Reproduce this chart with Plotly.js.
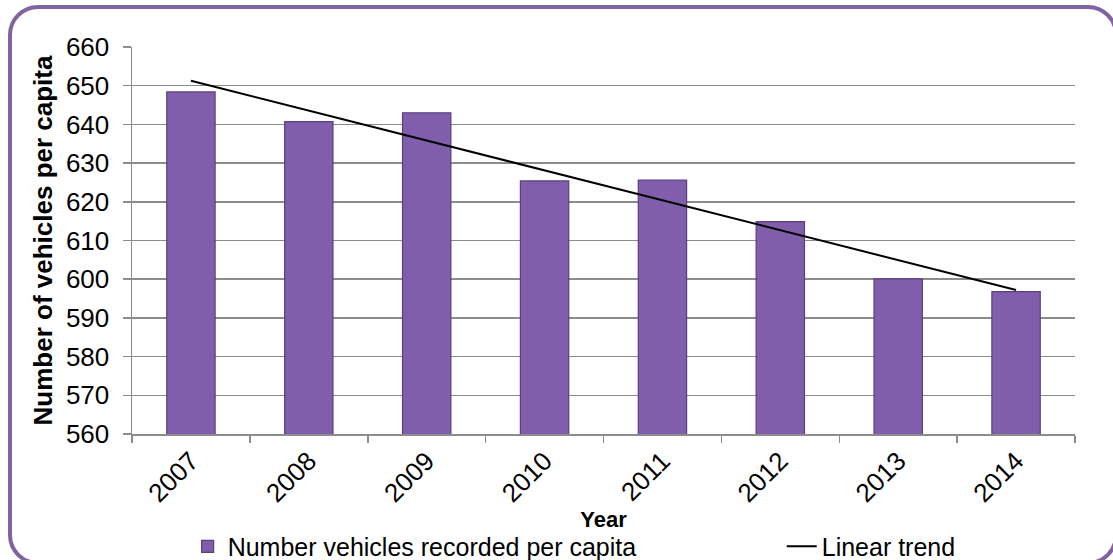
<!DOCTYPE html>
<html>
<head>
<meta charset="utf-8">
<script src="https://cdn.plot.ly/plotly-3.0.1.min.js"></script>
<style>
  html, body { margin: 0; padding: 0; background: #ffffff; }
  #wrap { position: relative; width: 1113px; height: 560px; overflow: hidden; background: #ffffff; }
  #chart { position: absolute; left: 0; top: 0; width: 1113px; height: 560px; }
  #frame { position: absolute; left: 8px; top: 5px; width: 1110px; height: 560px;
           border: 4px solid #8064A2; border-radius: 30px; box-sizing: border-box; pointer-events: none; }
</style>
</head>
<body>
<div id="wrap">
  <div id="chart"></div>
  <div id="frame"></div>
</div>
<script>
// Data
const years = ['2007', '2008', '2009', '2010', '2011', '2012', '2013', '2014'];
const vehiclesPerCapita = [648.4, 640.7, 643.0, 625.4, 625.6, 614.9, 600.1, 596.8];
const trendYears = ['2007', '2014'];
const trendValues = [651.3, 597.2];
const yTicks = [560, 570, 580, 590, 600, 610, 620, 630, 640, 650, 660];

const FONT = 'Arial, "Liberation Sans", sans-serif';

const barTrace = {
  type: 'bar',
  name: 'Number vehicles recorded per capita',
  x: years,
  y: vehiclesPerCapita,
  marker: {
    color: '#805eab',
    line: { color: '#5a3f7e', width: 1.2 }
  },
  legend: 'legend',
  hoverinfo: 'x+y'
};

const trendTrace = {
  type: 'scatter',
  mode: 'lines',
  name: 'Linear trend',
  x: trendYears,
  y: trendValues,
  line: { color: '#000000', width: 2 },
  legend: 'legend2',
  hoverinfo: 'skip'
};

const legendFont = { family: FONT, size: 25, color: '#000000' };

const layout = {
  width: 1113,
  height: 560,
  margin: { l: 132, r: 38, t: 47, b: 126, autoexpand: false },
  paper_bgcolor: '#ffffff',
  plot_bgcolor: '#ffffff',
  font: { family: FONT, size: 26, color: '#000000' },
  bargap: 0.59,
  showlegend: true,
  legend: {
    orientation: 'h',
    x: 0.059, xanchor: 'left',
    y: -0.291, yanchor: 'middle',
    font: legendFont,
    bgcolor: 'rgba(0,0,0,0)'
  },
  legend2: {
    orientation: 'h',
    x: 0.689, xanchor: 'left',
    y: -0.291, yanchor: 'middle',
    font: legendFont,
    bgcolor: 'rgba(0,0,0,0)'
  },
  xaxis: {
    type: 'category',
    automargin: false,
    tickangle: -45,
    tickfont: { family: FONT, size: 26, color: '#000000' },
    ticks: 'outside',
    tickson: 'boundaries',
    ticklen: 7,
    tickcolor: '#8c8c8c',
    tickwidth: 1.5,
    showline: true,
    linecolor: '#8c8c8c',
    linewidth: 1.5,
    showgrid: false,
    zeroline: false,
    title: { text: '<b>Year</b>', font: { family: FONT, size: 22, color: '#000000' }, standoff: 0 }
  },
  yaxis: {
    automargin: false,
    range: [560, 660],
    tickvals: yTicks,
    ticktext: yTicks.map(String),
    tickfont: { family: FONT, size: 26, color: '#000000' },
    ticks: 'outside',
    ticklen: 8,
    tickcolor: '#8c8c8c',
    tickwidth: 1.5,
    ticklabelstandoff: 8,
    showline: true,
    linecolor: '#8c8c8c',
    linewidth: 1.5,
    showgrid: true,
    gridcolor: '#8c8c8c',
    gridwidth: 1.5,
    zeroline: false,
    title: { text: '<b>Number of vehicles per capita</b>', font: { family: FONT, size: 26, color: '#000000' }, standoff: 6 }
  }
};

Plotly.newPlot('chart', [barTrace, trendTrace], layout, { displayModeBar: false, staticPlot: true });
</script>
</body>
</html>
